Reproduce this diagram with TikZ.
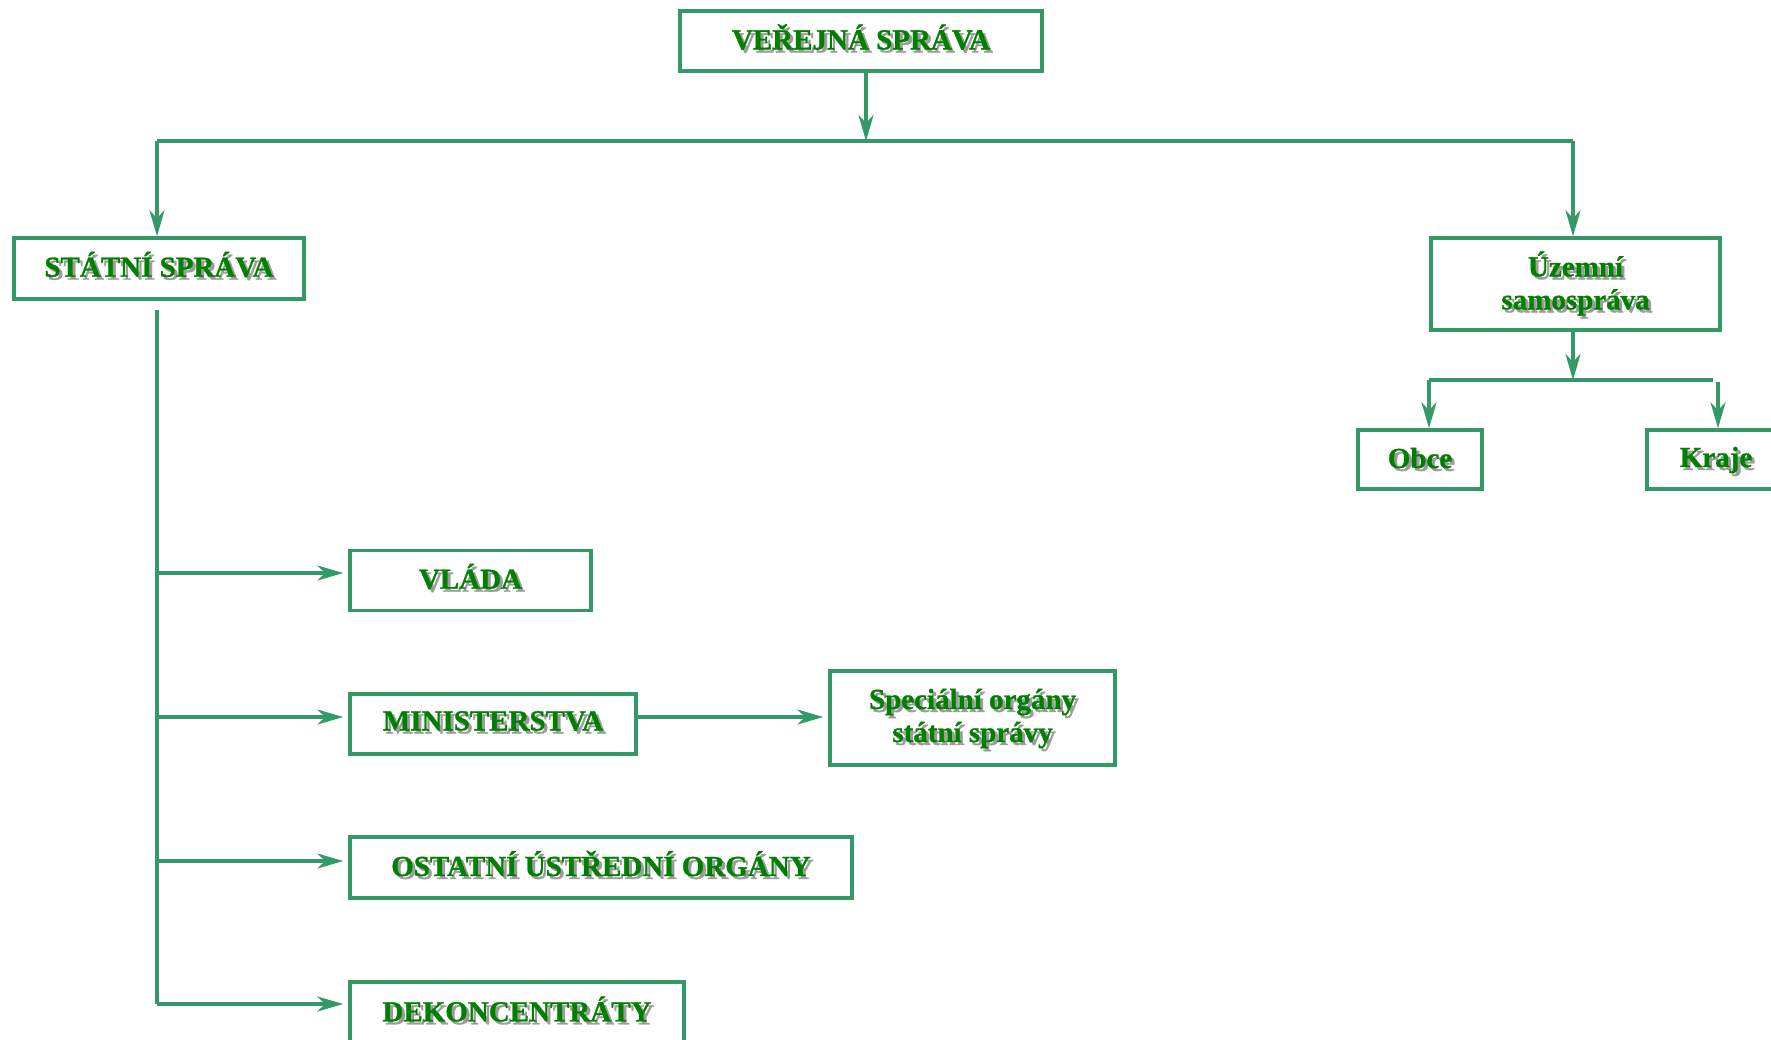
\documentclass[tikz,border=0pt]{standalone}
\usepackage{fontspec}
\setmainfont{Liberation Serif}[BoldFeatures={FakeBold=1}]
\usetikzlibrary{arrows.meta}
\definecolor{lncol}{HTML}{339966}
\definecolor{txtgreen}{HTML}{008000}
\definecolor{shgray}{HTML}{9C9C9C}
\newcommand{\shd}[1]{\makebox[0pt][l]{\kern3pt\raisebox{-3pt}{\textcolor{shgray}{#1}}}\textcolor{txtgreen}{#1}}
\newcommand{\mv}[2]{\raisebox{#1}[\height][\depth]{#2}}
\tikzset{
  box/.style={rectangle, draw=lncol, line width=3.4pt, fill=white, inner sep=0pt,
    align=center, font=\fontsize{29}{33}\selectfont\bfseries},
  conn/.style={draw=lncol, line width=3.3pt},
  arr/.style={conn, -{Stealth[length=26pt,width=15pt,inset=8pt]}},
}
\begin{document}
\begin{tikzpicture}[x=1pt,y=-1pt]
\useasboundingbox (0,0) rectangle (1771,1039);
\fill[white] (0,0) rectangle (1771,1039);

\node[box, minimum width=362pt, minimum height=60pt] (ver) at (861,41) {\mv{2.5pt}{\shd{VEŘEJNÁ SPRÁVA}}};
\node[box, minimum width=290pt, minimum height=61pt] (stat) at (159,268.5) {\mv{2.5pt}{\shd{STÁTNÍ SPRÁVA}}};
\node[box, minimum width=289pt, minimum height=92pt] (uzem) at (1575.5,284) {\mv{-1pt}{\shd{Územní}}\\\mv{-1pt}{\shd{samospráva}}};
\node[box, minimum width=124pt, minimum height=59pt] (obce) at (1420,459.5) {\shd{Obce}};
\node[box, minimum width=138pt, minimum height=59pt] (kraje) at (1716,459.5) {\mv{-2pt}{\shd{Kraje}}};
\node[box, minimum width=241pt, minimum height=60pt] (vlada) at (470.5,580.5) {\mv{2.5pt}{\shd{VLÁDA}}};
\node[box, minimum width=286pt, minimum height=60pt] (mini) at (493,724) {\mv{1.5pt}{\shd{MINISTERSTVA}}};
\node[box, minimum width=285pt, minimum height=94pt] (spec) at (972.5,718) {\mv{-2pt}{\shd{Speciální orgány}}\\\mv{-2pt}{\shd{státní správy}}};
\node[box, minimum width=502pt, minimum height=61pt] (ost) at (601,867.5) {\mv{2.5pt}{\shd{OSTATNÍ ÚSTŘEDNÍ ORGÁNY}}};
\node[box, minimum width=334pt, minimum height=62pt] (dek) at (517,1013) {\mv{2.5pt}{\shd{DEKONCENTRÁTY}}};

% top tree
\coordinate (j0) at (866,141);
\coordinate (jl) at (157,141);
\coordinate (jr) at (1573,141);
\draw[arr] (ver.south -| j0) -- (j0);
\draw[conn] (jl) -- (jr);
\draw[arr] (jl) -- (jl |- stat.north);
\draw[arr] (jr) -- (jr |- uzem.north);

% samosprava subtree
\coordinate (k0) at (1573,380);
\coordinate (kl) at (1429,380);
\coordinate (kr) at (1713,380);
\coordinate (kr2) at (1718,382);
\draw[arr] (uzem.south -| k0) -- (k0);
\draw[conn] (kl) -- (kr);
\draw[arr] (kl) -- (kl |- obce.north);
\draw[arr] (kr2) -- (kr2 |- kraje.north);

% statni sprava trunk
\coordinate (s0) at (157,310);
\coordinate (s1) at (157,573);
\coordinate (s2) at (157,717);
\coordinate (s3) at (157,861);
\coordinate (s4) at (157,1004);
\draw[conn] (s0) -- (s4);
\draw[arr, shorten >=5pt] (s1) -- (s1 -| vlada.west);
\draw[arr, shorten >=5pt] (s2) -- (s2 -| mini.west);
\draw[arr, shorten >=5pt] (s3) -- (s3 -| ost.west);
\draw[arr, shorten >=5pt] (s4) -- (s4 -| dek.west);
\coordinate (m1) at (0,717);
\draw[arr, shorten >=5pt] (m1 -| mini.east) -- (m1 -| spec.west);
\end{tikzpicture}
\end{document}
